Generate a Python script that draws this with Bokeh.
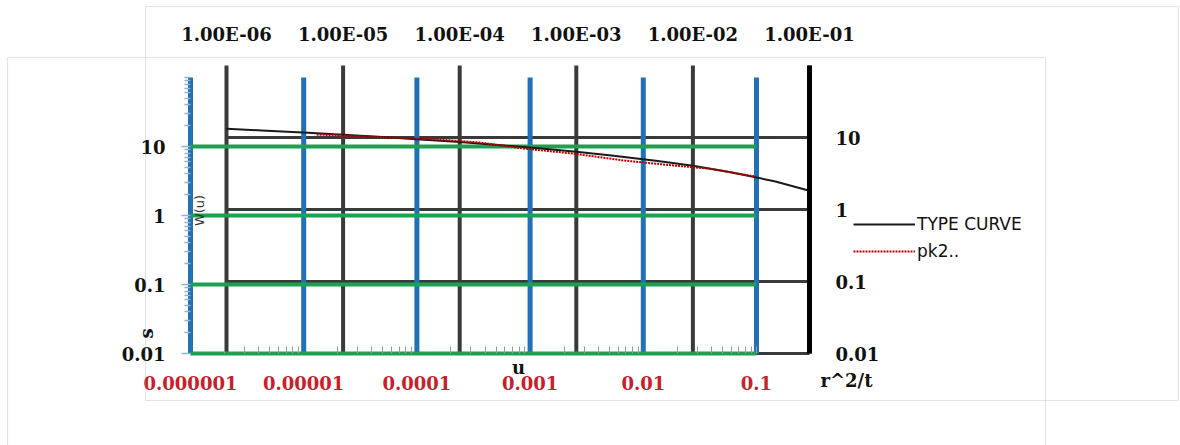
from math import pi
from bokeh.plotting import figure
from bokeh.models import (Range1d, LogScale, LogAxis, FixedTicker, CustomJSTickFormatter,
                          Label, BoxAnnotation, Legend, LegendItem)
from bokeh.embed import file_html
from bokeh.resources import INLINE

# ---------------- data ----------------
# Theis type curve W(u) versus u (black chart)
type_u = [1e-6, 2e-6, 5e-6, 1e-5, 2e-5, 5e-5, 1e-4, 2e-4, 5e-4,
          1e-3, 2e-3, 5e-3, 1e-2, 2e-2, 5e-2, 1e-1]
type_w = [13.24, 12.55, 11.63, 10.94, 10.24, 9.33, 8.63, 7.94, 7.02,
          6.33, 5.64, 4.73, 4.04, 3.35, 2.47, 1.82]

# field data pk2..: drawdown s versus r^2/t (blue/green chart)
pk2_r2t = [1.3e-5, 5.8e-5, 1.6e-4, 3.65e-4, 8.7e-4, 2.4e-3, 6.7e-3, 1.85e-2, 3.7e-2, 9.8e-2]
pk2_s = [14.9, 13.5, 12.6, 11.4, 9.35, 7.9, 6.27, 5.3, 4.8, 3.67]

# decades / tick labels
blue_x_decades = [1e-6, 1e-5, 1e-4, 1e-3, 1e-2, 1e-1]
blue_y_decades = [0.01, 0.1, 1, 10]
blue_y_top = 100
black_x_decades = [1e-6, 1e-5, 1e-4, 1e-3, 1e-2, 1e-1]
black_y_decades = [0.01, 0.1, 1, 10]
black_y_top = 100

top_tick_labels = ["1.00E-06", "1.00E-05", "1.00E-04", "1.00E-03", "1.00E-02", "1.00E-01"]
bottom_tick_labels = ["0.000001", "0.00001", "0.0001", "0.001", "0.01", "0.1"]
y_tick_labels = ["0.01", "0.1", "1", "10"]

# ---------------- layout (pixel geometry of the two overlaid charts) ----------------
W, H = 1180, 445
BLUE_X0_PX, BLUE_PX_DEC_X = 190, 113.2     # pixel of 1e-6, pixels per decade
BLUE_Y0_PX, BLUE_PX_DEC_Y = 353, 69.0      # pixel of 0.01 (from top), pixels per decade
BLK_X0_PX, BLK_PX_DEC_X = 226, 116.6
BLK_Y0_PX, BLK_PX_DEC_Y = 353, 72.0

blue_x_range = Range1d(10 ** (-6 - BLUE_X0_PX / BLUE_PX_DEC_X), 10 ** (-6 + (W - BLUE_X0_PX) / BLUE_PX_DEC_X))
blue_y_range = Range1d(10 ** (-2 - (H - BLUE_Y0_PX) / BLUE_PX_DEC_Y), 10 ** (-2 + BLUE_Y0_PX / BLUE_PX_DEC_Y))
blk_x_range = Range1d(10 ** (-6 - BLK_X0_PX / BLK_PX_DEC_X), 10 ** (-6 + (W - BLK_X0_PX) / BLK_PX_DEC_X))
blk_y_range = Range1d(10 ** (-2 - (H - BLK_Y0_PX) / BLK_PX_DEC_Y), 10 ** (-2 + BLK_Y0_PX / BLK_PX_DEC_Y))

p = figure(width=W, height=H, output_backend="svg", toolbar_location=None,
           x_axis_type=None, y_axis_type=None,
           x_range=blue_x_range, y_range=blue_y_range)
p.x_scale = LogScale()
p.y_scale = LogScale()
p.extra_x_ranges = {"blk": blk_x_range}
p.extra_y_ranges = {"blk": blk_y_range}
p.extra_x_scales = {"blk": LogScale()}
p.extra_y_scales = {"blk": LogScale()}
p.min_border = 0
p.outline_line_color = None
p.background_fill_color = "white"
p.border_fill_color = "white"

GRID_BLACK = "#3a3a3a"
BLUE = "#2270b5"
GREEN = "#1fa050"

# black chart grid
nb = len(black_y_decades)
p.segment(x0=[black_x_decades[0]] * nb, x1=[black_x_decades[-1]] * nb,
          y0=black_y_decades, y1=black_y_decades,
          x_range_name="blk", y_range_name="blk", line_color=GRID_BLACK, line_width=3)
nv = len(black_x_decades)
p.segment(x0=black_x_decades, x1=black_x_decades,
          y0=[black_y_decades[0]] * nv, y1=[black_y_top] * nv,
          x_range_name="blk", y_range_name="blk", line_color=GRID_BLACK, line_width=4)

# blue / green chart grid
nbv = len(blue_x_decades)
p.segment(x0=blue_x_decades, x1=blue_x_decades,
          y0=[blue_y_decades[0]] * nbv, y1=[blue_y_top] * nbv,
          line_color=BLUE, line_width=5)
ngh = len(blue_y_decades)
p.segment(x0=[blue_x_decades[0]] * ngh, x1=[blue_x_decades[-1]] * ngh,
          y0=blue_y_decades, y1=blue_y_decades,
          line_color=GREEN, line_width=4)

# series
r_type = p.line(type_u, type_w, x_range_name="blk", y_range_name="blk",
                line_color="#1a1a1a", line_width=2)
r_pk2 = p.line(pk2_r2t, pk2_s, line_color="#c00000", line_width=2, line_dash="2 1")

def fmt(tick_vals, labels):
    return CustomJSTickFormatter(args=dict(tvals=tick_vals, tlabs=labels), code="""
        for (let i = 0; i < tvals.length; i++) {
            if (Math.abs(Math.log10(tvals[i]) - Math.log10(tick)) < 1e-6) return tlabs[i];
        }
        return "";
    """)

def minors(decs, top):
    out = []
    for d in decs:
        for m in range(2, 10):
            out.append(m * d)
    out.append(top)
    return out

TICK_FONT = "DejaVu Serif"
TICK_SIZE = "18px"

def style_labels(ax, color="#111111"):
    ax.major_label_text_font = TICK_FONT
    ax.major_label_text_font_style = "bold"
    ax.major_label_text_font_size = TICK_SIZE
    ax.major_label_text_color = color

# left axis (s, blue chart) drawn at r^2/t = 1e-6
ax_left = LogAxis(ticker=FixedTicker(ticks=blue_y_decades, minor_ticks=minors(blue_y_decades, blue_y_top)),
                  formatter=fmt(blue_y_decades, y_tick_labels),
                  fixed_location=blue_x_decades[0], bounds=(blue_y_decades[0], blue_y_top))
ax_left.axis_line_color = None
ax_left.major_tick_line_color = "#8fb4d4"
ax_left.minor_tick_line_color = "#8fb4d4"
ax_left.major_tick_line_width = 1.5
ax_left.minor_tick_line_width = 1.5
ax_left.major_tick_out = 9
ax_left.major_tick_in = 0
ax_left.minor_tick_out = 6
ax_left.minor_tick_in = 0
ax_left.major_label_standoff = 16
style_labels(ax_left)
p.add_layout(ax_left, "left")

# bottom axis (r^2/t, blue chart) drawn at s = 0.01
ax_bot = LogAxis(ticker=FixedTicker(ticks=blue_x_decades, minor_ticks=minors(blue_x_decades[:-1], blue_x_decades[-1])),
                 formatter=fmt(blue_x_decades, bottom_tick_labels),
                 fixed_location=blue_y_decades[0], bounds=(blue_x_decades[0], blue_x_decades[-1]))
ax_bot.axis_line_color = None
ax_bot.major_tick_line_color = None
ax_bot.major_tick_out = 0
ax_bot.major_tick_in = 0
ax_bot.minor_tick_line_color = "#9a9a9a"
ax_bot.minor_tick_in = 7
ax_bot.minor_tick_out = 0
ax_bot.major_label_standoff = 22
style_labels(ax_bot, "#c8202a")
p.add_layout(ax_bot, "below")

# top axis (u, black chart) drawn at W(u) = 100
ax_top = LogAxis(x_range_name="blk", y_range_name="blk",
                 ticker=FixedTicker(ticks=black_x_decades, minor_ticks=[]),
                 formatter=fmt(black_x_decades, top_tick_labels),
                 fixed_location=black_y_top, bounds=(black_x_decades[0], black_x_decades[-1]))
ax_top.axis_line_color = None
ax_top.major_tick_line_color = None
ax_top.minor_tick_line_color = None
ax_top.major_tick_out = 0
ax_top.major_tick_in = 0
ax_top.minor_tick_out = 0
ax_top.major_label_standoff = 21
style_labels(ax_top)
p.add_layout(ax_top, "above")

# right axis (W(u), black chart) drawn at u = 0.1
ax_right = LogAxis(x_range_name="blk", y_range_name="blk",
                   ticker=FixedTicker(ticks=black_y_decades, minor_ticks=[]),
                   formatter=fmt(black_y_decades, y_tick_labels),
                   fixed_location=black_x_decades[-1], bounds=(black_y_decades[0], black_y_top))
ax_right.axis_line_color = "black"
ax_right.axis_line_width = 5
ax_right.major_tick_line_color = None
ax_right.minor_tick_line_color = None
ax_right.major_tick_out = 0
ax_right.major_tick_in = 0
ax_right.minor_tick_out = 0
ax_right.major_label_standoff = 26
style_labels(ax_right)
p.add_layout(ax_right, "right")

# chart-area borders of the two overlaid charts (screen px from bottom-left)
for (l, r, t, b) in [(145, 1178, 439, 45), (7, 1045, 388, -15)]:
    p.add_layout(BoxAnnotation(left=l, right=r, top=t, bottom=b,
                               left_units="screen", right_units="screen",
                               top_units="screen", bottom_units="screen",
                               fill_alpha=0, line_color="#a6a6a6", line_width=1.2))

# axis titles
def lab(text, x, y, size, style="bold", font=TICK_FONT, angle=0, color="#111111"):
    p.add_layout(Label(x=x, y=y, x_units="screen", y_units="screen", text=text,
                       text_font=font, text_font_size=size, text_font_style=style,
                       text_align="center", text_baseline="middle", angle=angle,
                       text_color=color))

lab("W(u)", 199, 235, "13px", style="normal", font="DejaVu Sans", angle=pi / 2, color="#333333")
lab("s", 146, 112, "18px", angle=pi / 2)
lab("u", 518, 78, "18px")
lab("r^2/t", 846, 65, "18px")

legend = Legend(items=[LegendItem(label="TYPE CURVE", renderers=[r_type]),
                       LegendItem(label="pk2..", renderers=[r_pk2])],
                location=(853, 184), border_line_color=None, background_fill_alpha=0,
                glyph_width=62, glyph_height=20, label_height=20, spacing=7,
                padding=0, margin=0, label_standoff=2,
                label_text_font="DejaVu Sans", label_text_font_size="17px",
                label_text_color="#111111")
p.add_layout(legend)

open("out.html", "w").write(file_html(p, INLINE))
